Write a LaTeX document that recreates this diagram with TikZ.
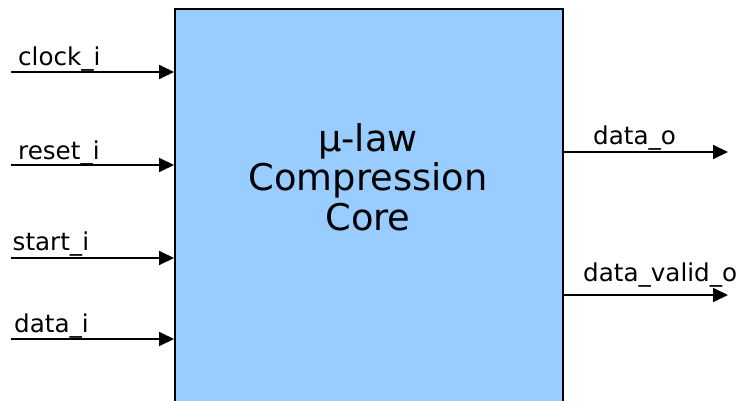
\documentclass[tikz,border=0pt]{standalone}
\usepackage{fontspec}
\setmainfont{DejaVu Sans}
\usepackage{xcolor}
\usetikzlibrary{arrows.meta,calc,positioning}
\definecolor{coreblue}{HTML}{99CCFF}

\begin{document}
\begin{tikzpicture}[x=1pt,y=-1pt,
  sig/.style={line width=2pt,-{Triangle[length=15pt,width=14pt]}},
  lbl/.style={anchor=base west,inner sep=0pt,font=\fontsize{24.6}{28}\selectfont}]
\useasboundingbox (0,0) rectangle (740,401);
\clip (0,0) rectangle (740,401);
% the core block (runs off the bottom)
\node [draw,line width=2pt,fill=coreblue,anchor=north west,minimum width=388pt,minimum height=430pt,inner sep=0pt] (core) at (174,8) {};
\node [align=center,font=\fontsize{36.8}{39.5}\selectfont] (title) at (368,177) {µ-law\\Compression\\Core};
% inputs
\coordinate (clk) at (11,72);  \coordinate (rst) at (11,165);
\coordinate (stt) at (11,258); \coordinate (din) at (11,339);
\draw [sig] (clk) -- (clk -| core.west);
\draw [sig] (rst) -- (rst -| core.west);
\draw [sig] (stt) -- (stt -| core.west);
\draw [sig] (din) -- (din -| core.west);
\node [lbl] (clklbl) at (18,66) {clock\_i};
\node [lbl] (rstlbl) at (18,160) {reset\_i};
\node [lbl] (sttlbl) at (12.5,251) {start\_i};
\node [lbl] (dinlbl) at (14,332) {data\_i};
% outputs
\coordinate (dout) at (728,152); \coordinate (dval) at (728,295);
\draw [sig] (dout -| core.east) -- (dout);
\draw [sig] (dval -| core.east) -- (dval);
\node [lbl] (doutlbl) at (593,145) {data\_o};
\node [lbl] (dvallbl) at (583,282) {data\_valid\_o};
\end{tikzpicture}
\end{document}
